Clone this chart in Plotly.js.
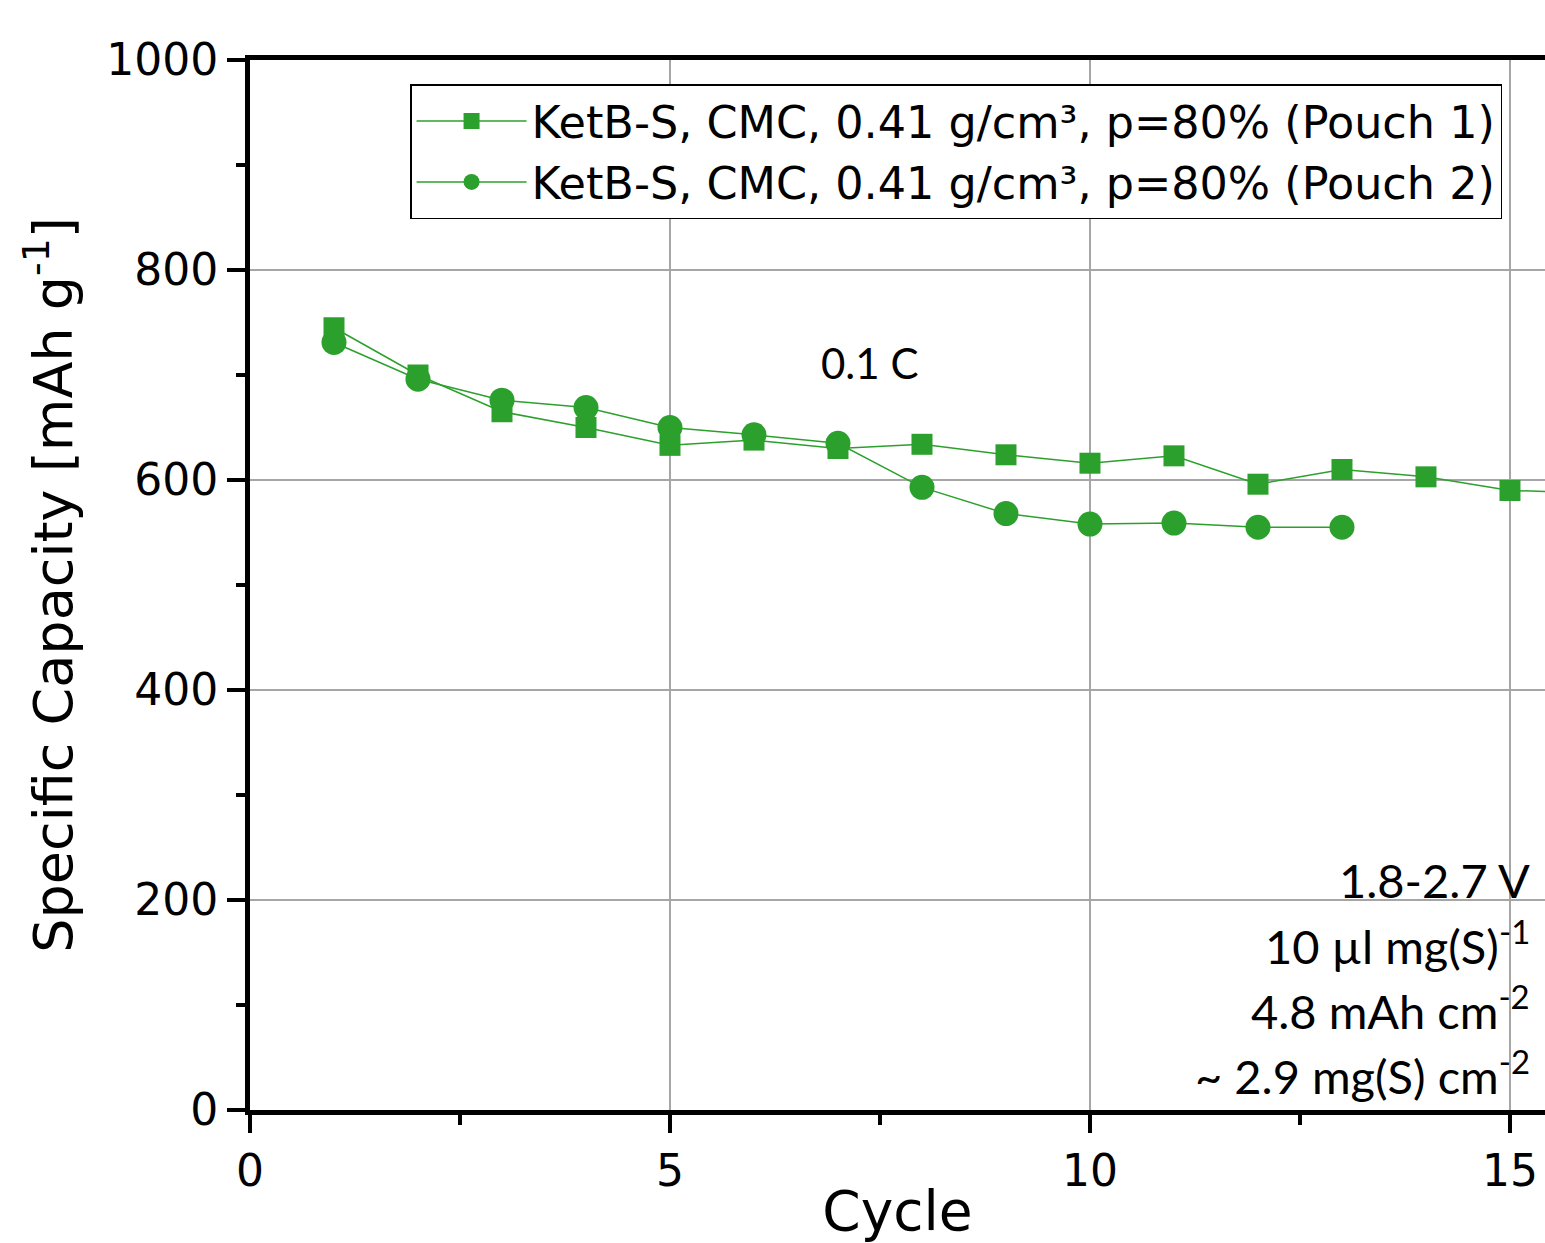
<!DOCTYPE html>
<html>
<head>
<meta charset="utf-8">
<script src="https://cdn.plot.ly/plotly-3.0.1.min.js"></script>
<style>html,body{margin:0;padding:0;background:#fff;}#chart{width:1545px;height:1243px;}</style>
</head>
<body>
<div id="chart"></div>
<script>
var cycles1 = [1,2,3,4,5,6,7,8,9,10,11,12,13,14,15,16];
var capacity1 = [745,700,665,650,633,638,630,634,624,616,623,596,610,603,590,588];
var cycles2 = [1,2,3,4,5,6,7,8,9,10,11,12,13];
var capacity2 = [731,696,676,669,650,643,635,593,568,558,559,555,555];
var name1 = "KetB-S, CMC, 0.41 g/cm³, p=80% (Pouch 1)";
var name2 = "KetB-S, CMC, 0.41 g/cm³, p=80% (Pouch 2)";
var xTicks = [0,5,10,15];
var yTicks = [0,200,400,600,800,1000];
var green = "#2ca02c";
var mainFont = "DejaVu Sans, sans-serif";
var noteFont = "Lato, Open Sans, sans-serif";

var traces = [
  {x: cycles1, y: capacity1, name: name1, mode: "lines+markers", type: "scatter",
   line: {color: green, width: 1.5}, marker: {symbol: "square", size: 21, color: green}, cliponaxis: true},
  {x: cycles2, y: capacity2, name: name2, mode: "lines+markers", type: "scatter",
   line: {color: green, width: 1.5}, marker: {symbol: "circle", size: 25, color: green}, cliponaxis: true}
];

var layout = {
  width: 1545, height: 1243,
  margin: {l: 250, r: 0, t: 60, b: 133},
  paper_bgcolor: "#fff", plot_bgcolor: "#fff",
  showlegend: true,
  legend: {x: 0.1236, y: 0.977, xanchor: "left", yanchor: "top",
    bgcolor: "#fff", bordercolor: "#000", borderwidth: 1.5,
    font: {family: mainFont, size: 44.5, color: "#000"}, itemwidth: 110, tracegroupgap: 0},
  xaxis: {range: [0, 15.417], tickvals: xTicks, ticktext: xTicks.map(String),
    showline: true, linecolor: "#000", linewidth: 5, mirror: true,
    ticks: "outside", ticklen: 18, tickwidth: 4, tickcolor: "#000",
    minor: {dtick: 2.5, tick0: 0, ticks: "outside", ticklen: 10, tickwidth: 4, tickcolor: "#000", showgrid: false},
    showgrid: true, gridcolor: "#a6a6a6", gridwidth: 1.5, zeroline: false,
    tickfont: {family: mainFont, size: 44, color: "#000"},
    title: {text: "Cycle", font: {family: mainFont, size: 55, color: "#000"}, standoff: 11}},
  yaxis: {range: [0, 1000], tickvals: yTicks, ticktext: yTicks.map(String),
    showline: true, linecolor: "#000", linewidth: 5, mirror: false,
    ticks: "outside", ticklen: 18, tickwidth: 4, tickcolor: "#000",
    minor: {dtick: 100, tick0: 0, ticks: "outside", ticklen: 9, tickwidth: 4, tickcolor: "#000", showgrid: false},
    showgrid: true, gridcolor: "#a6a6a6", gridwidth: 1.5, zeroline: false,
    tickfont: {family: mainFont, size: 44, color: "#000"},
    title: {text: "Specific Capacity [mAh g<sup>-1</sup>]", font: {family: mainFont, size: 54, color: "#000"}, standoff: 18}},
  annotations: [
    {x: 7.38, y: 711, xref: "x", yref: "y", text: "0.1 C", showarrow: false,
     font: {family: noteFont, size: 42, color: "#000"}},
    {x: 0.99, y: (1110-880)/1050, xref: "paper", yref: "paper", xanchor: "right", yanchor: "middle",
     text: "1.8-2.7 V", showarrow: false, font: {family: noteFont, size: 47, color: "#000"}},
    {x: 0.99, y: (1110-943)/1050, xref: "paper", yref: "paper", xanchor: "right", yanchor: "middle",
     text: "10 µl mg(S)<sup>-1</sup>", showarrow: false, font: {family: noteFont, size: 47, color: "#000"}},
    {x: 0.99, y: (1110-1008)/1050, xref: "paper", yref: "paper", xanchor: "right", yanchor: "middle",
     text: "4.8 mAh cm<sup>-2</sup>", showarrow: false, font: {family: noteFont, size: 47, color: "#000"}},
    {x: 0.99, y: (1110-1073)/1050, xref: "paper", yref: "paper", xanchor: "right", yanchor: "middle",
     text: "~ 2.9 mg(S) cm<sup>-2</sup>", showarrow: false, font: {family: noteFont, size: 47, color: "#000"}}
  ]
};

Plotly.newPlot("chart", traces, layout, {displayModeBar: false, staticPlot: true});
</script>
</body>
</html>
